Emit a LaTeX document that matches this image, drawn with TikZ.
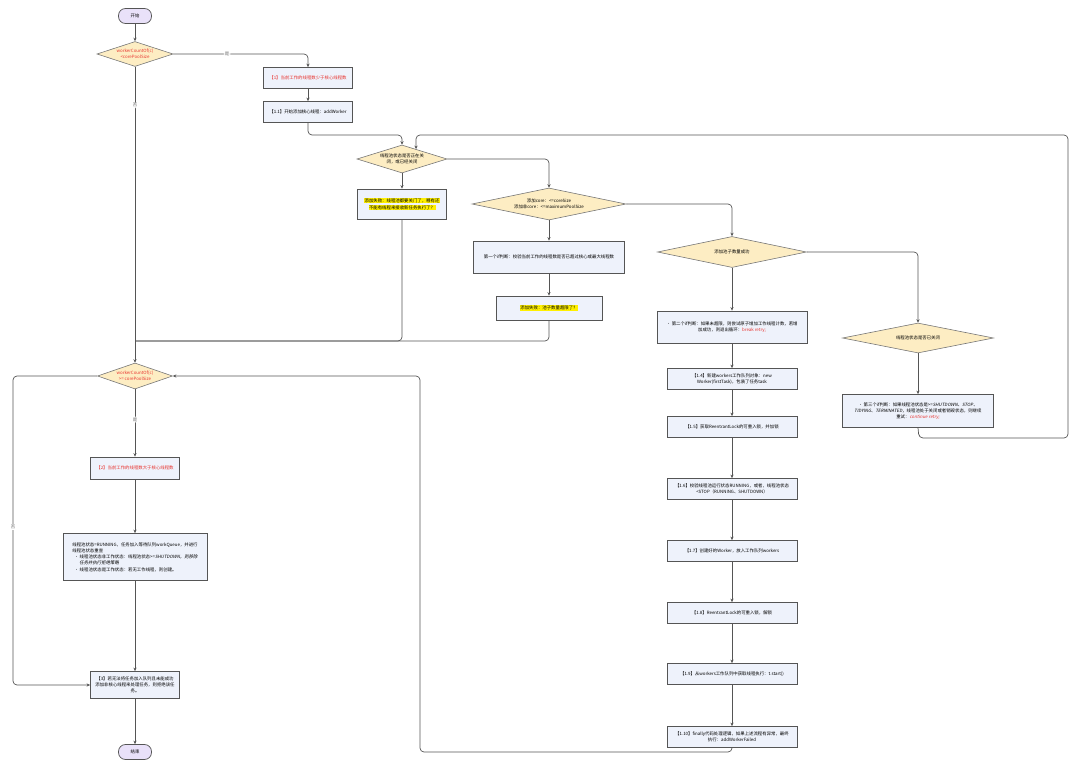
\documentclass[tikz,border=0pt]{standalone}
\usepackage{fontspec}
\setmainfont{Noto Sans CJK SC}
\newfontfamily\itcjk[FakeSlant=0.2]{Noto Sans CJK SC}
\usetikzlibrary{shapes.geometric,arrows.meta,calc}
\definecolor{boxfill}{HTML}{EEF2FB}
\definecolor{diafill}{HTML}{FDEDC3}
\definecolor{termfill}{HTML}{E9E1F9}
\definecolor{lnc}{HTML}{555555}
\definecolor{redt}{HTML}{E8332E}
\definecolor{hlc}{HTML}{FFF000}
\definecolor{lblc}{HTML}{666666}
\newcommand\myhl[1]{{\setlength{\fboxsep}{0.5pt}\colorbox{hlc}{#1}}}
\tikzset{
  every node/.style={font=\fontsize{4.4}{6.2}\selectfont},
  box/.style={draw=lnc, line width=0.8pt, fill=boxfill, rectangle, inner sep=1pt, align=center},
  dia/.style={draw=lnc!80, line width=0.6pt, fill=diafill, diamond, inner sep=0pt, align=center},
  term/.style={draw=lnc, line width=0.7pt, fill=termfill, rectangle, rounded corners=7pt, minimum width=33pt, minimum height=15pt, inner sep=0pt},
  conn/.style={draw=lnc, line width=0.7pt, rounded corners=4pt, -{Stealth[length=3.5pt,width=3.2pt]}},
  plain/.style={draw=lnc, line width=0.7pt, rounded corners=4pt},
  lbl/.style={fill=white, text=lblc, inner sep=1pt}
}
\begin{document}
\begin{tikzpicture}[x=1pt,y=-1pt]
\useasboundingbox (0,0) rectangle (1080,770);

% left column
\node[term] (start) at (135,16) {开始};
\node[dia, aspect=3.0, minimum width=76pt, minimum height=25pt, text=redt] (d1) at (135,54) {workerCountOf(c)\\<corePoolSize};
\node[box, minimum width=89pt, minimum height=21pt, text=redt] (b1) at (308,78) {【1】当前工作的线程数少于核心线程数};
\node[box, minimum width=89pt, minimum height=21pt] (b11) at (308,112) {【1.1】开始添加核心线程：addWorker};

\node[dia, aspect=3.2, minimum width=90pt, minimum height=28pt] (d3) at (402,159) {线程池状态是否正在关\\闭，或已经关闭};
\node[box, minimum width=89pt, minimum height=30pt] (yb) at (402,204) {\myhl{添加失败：线程池都要关门了，哪有还}\\[0.6pt]\myhl{不能有线程来接收新任务执行了？}};

\node[dia, aspect=4.8, minimum width=154pt, minimum height=32pt] (d4) at (549,204) {添加core：<=coreSize\\添加非core：<=maximumPoolSize};
\node[box, minimum width=151pt, minimum height=32pt] (b1st) at (549,257) {第一个if判断：校验当前工作的线程数是否已超过核心或最大线程数};
\node[box, minimum width=106pt, minimum height=24pt] (fail) at (549,308) {\myhl{添加失败：池子数量超限了？}};

\node[dia, aspect=4.8, minimum width=149pt, minimum height=31pt] (d5) at (732,252) {添加池子数量成功};
\node[box, minimum width=150pt, minimum height=32pt] (b2nd) at (732,327) {• 第二个if判断：如果未超限，则尝试原子增加工作线程计数，若增\\加成功，则退出循环：\textcolor{redt}{break retry;}};

\node[dia, aspect=5.0, minimum width=151pt, minimum height=30pt] (d6) at (918,338) {线程池状态是否已关闭};
\node[box, minimum width=151pt, minimum height=33pt] (b3rd) at (918,411) {• 第三个if判断：如果线程池状态是>={\itcjk SHUTDOWN、STOP、}\\{\itcjk TIDYING、TERMINATED，}线程池处于关闭或者销毁状态，则继续\\重试：{\itcjk\color{redt} continue retry;}};

\node[box, minimum width=130pt, minimum height=21pt] (b14) at (732,379) {【1.4】新建workers工作队列对象：new\\Worker(firstTask)，包装了任务task};
\node[box, minimum width=130pt, minimum height=21pt] (b15) at (732,427) {【1.5】获取ReentrantLock的可重入锁，并加锁};
\node[box, minimum width=130pt, minimum height=21pt] (b16) at (732,489) {【1.6】校验线程池运行状态RUNNING，或者，线程池状态\\<STOP（RUNNING、SHUTDOWN）};
\node[box, minimum width=130pt, minimum height=21pt] (b17) at (732,551) {【1.7】创建好的Worker，放入工作队列workers};
\node[box, minimum width=130pt, minimum height=21pt] (b18) at (732,613) {【1.8】ReentrantLock的可重入锁，解锁};
\node[box, minimum width=130pt, minimum height=21pt] (b19) at (732,674) {【1.9】从workers工作队列中获取线程执行：t.start()};
\node[box, minimum width=130pt, minimum height=21pt] (b110) at (732,737) {【1.10】finally代码处理逻辑，如果上述流程有异常，最终\\执行：addWorkerFailed};

\node[dia, aspect=2.9, minimum width=75pt, minimum height=26pt, text=redt] (d2) at (135,376) {workerCountOf(c)\\>= corePoolSize};
\node[box, minimum width=89pt, minimum height=22pt, text=redt] (b2) at (135,468) {【2】当前工作的线程数大于核心线程数};
\node[box, minimum width=144pt, minimum height=47pt, align=left] (desc) at (135,557) {线程池状态=RUNNING，任务加入等待队列workQueue，并进行\\线程池状态重查\\\hspace{2pt}• 线程池状态非工作状态：线程池状态>={\itcjk SHUTDOWN，则移除}\\\hspace{7pt}{\itcjk 任务并执行拒绝策略}\\\hspace{2pt}• 线程池状态是工作状态：若无工作线程，则创建。};
\node[box, minimum width=89pt, minimum height=27pt] (b3) at (135,685) {【3】若无法将任务加入队列且未能成功\\添加非核心线程来处理任务，则拒绝该任\\务。};
\node[term] (end) at (135,752) {结束};

% helper coordinates
\coordinate (j1) at (135,341);
\coordinate (d3r) at ($(d3.north)!0.31!(d3.east)$);

% connectors
\draw[conn] (start) -- (d1);
\draw[conn] (d1.east) -| (b1.north) node[lbl, pos=0.2] {是};
\draw[conn] (d1.south) -- (d2.north) node[lbl, pos=0.13] {否};
\draw[conn] (b1) -- (b11);
\draw[conn] (b11.south) -- (308,135) -| (d3.north);
\draw[conn] (d3.east) -| (d4.north);
\draw[conn] (d3) -- (yb);
\draw[plain] (yb.south) |- (j1);
\draw[plain] (fail.south) |- (j1);
\draw[conn] (d4) -- (b1st);
\draw[conn] (b1st) -- (fail);
\draw[conn] (d4.east) -| (d5.north);
\draw[conn] (d5) -- (b2nd);
\draw[conn] (d5.east) -| (d6.north);
\draw[conn] (d6) -- (b3rd);
\draw[conn] (b3rd.south) -- (919,438) -- (1068,438) -- (1068,135) -- (416,135) -- (d3r);
\draw[conn] (b2nd) -- (b14);
\draw[conn] (b14) -- (b15);
\draw[conn] (b15) -- (b16);
\draw[conn] (b16) -- (b17);
\draw[conn] (b17) -- (b18);
\draw[conn] (b18) -- (b19);
\draw[conn] (b19) -- (b110);
\draw[conn] (b110.south) -- (732,752) -- (420,752) -- (420,376) -- (d2.east);
\draw[conn] (d2) -- (b2) node[lbl, pos=0.45] {是};
\draw[conn] (b2) -- (desc);
\draw[conn] (desc) -- (b3);
\draw[conn] (b3) -- (end);
\draw[conn] (d2.west) -- (13,376) -- (13,685) -- (b3.west);
\node[lbl] (nolbl) at (13,527) {否};
\end{tikzpicture}
\end{document}
